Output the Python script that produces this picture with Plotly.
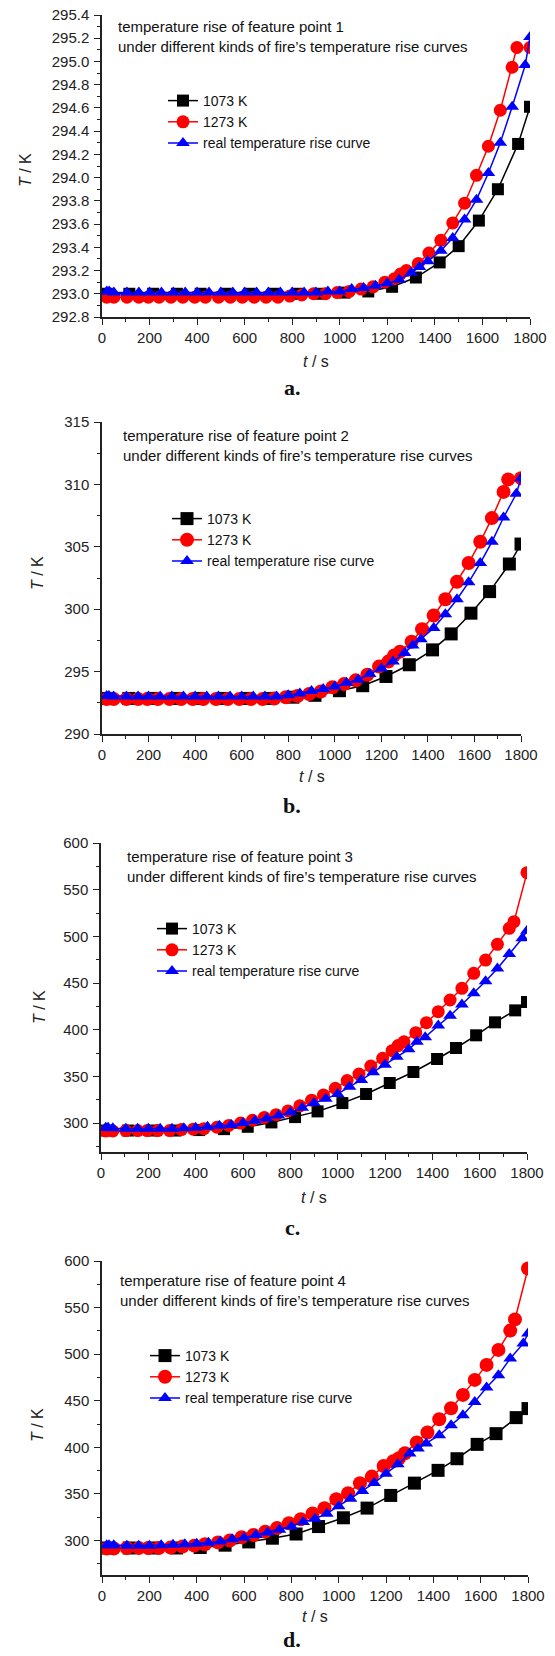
import plotly.graph_objects as go

W, H = 555, 1656
SANS = "Liberation Sans, Arial, sans-serif"
SERIF = "Liberation Serif, DejaVu Serif, serif"

# ---------------- data ----------------
t_1073 = [20, 115, 215, 315, 415, 520, 620, 720, 820, 915, 1020, 1120, 1220, 1320,
          1420, 1500, 1585, 1665, 1750, 1800]
t_1273 = [20, 50, 105, 155, 195, 240, 290, 340, 390, 435, 490, 540, 590, 640, 690,
          740, 790, 840, 890, 940, 990, 1040, 1090, 1140, 1190, 1230, 1255, 1280,
          1330, 1375, 1425, 1475, 1525, 1575, 1625, 1675, 1725, 1745, 1800]
t_real = [20, 30, 50, 105, 155, 200, 250, 300, 350, 400, 450, 500, 550, 600, 650,
          700, 750, 800, 850, 900, 950, 1000, 1050, 1100, 1150, 1200, 1250, 1300,
          1335, 1370, 1425, 1475, 1525, 1575, 1625, 1675, 1725, 1780, 1800]

# panel a: feature point 1
a_1073 = [293.00, 293.00, 293.00, 293.00, 293.00, 293.00, 293.00, 293.00, 293.00,
          293.00, 293.01, 293.02, 293.06, 293.14, 293.27, 293.41, 293.63, 293.90,
          294.29, 294.61]
a_1273 = [292.97, 292.97, 292.97, 292.97, 292.97, 292.97, 292.97, 292.97, 292.97,
          292.97, 292.97, 292.97, 292.97, 292.97, 292.97, 292.97, 292.98, 292.99,
          293.00, 293.00, 293.01, 293.02, 293.04, 293.06, 293.10, 293.13, 293.17,
          293.20, 293.26, 293.35, 293.46, 293.61, 293.78, 294.02, 294.27, 294.58,
          294.95, 295.12, 295.12]
a_real = [293.02, 293.02, 293.01, 293.01, 293.01, 293.01, 293.01, 293.01, 293.01,
          293.01, 293.01, 293.01, 293.01, 293.01, 293.01, 293.01, 293.01, 293.01,
          293.01, 293.01, 293.02, 293.02, 293.04, 293.05, 293.07, 293.09, 293.12,
          293.18, 293.23, 293.28, 293.37, 293.48, 293.64, 293.81, 294.04, 294.30,
          294.61, 294.97, 295.21]

# panel b: feature point 2
b_1073 = [292.85, 292.85, 292.85, 292.85, 292.85, 292.85, 292.85, 292.85, 292.95,
          293.10, 293.47, 293.87, 294.61, 295.55, 296.74, 298.02, 299.68, 301.41,
          303.62, 305.22]
b_1273 = [292.8, 292.8, 292.8, 292.8, 292.8, 292.8, 292.8, 292.8, 292.8, 292.8,
          292.8, 292.8, 292.8, 292.8, 292.8, 292.85, 292.95, 293.05, 293.2, 293.4,
          293.75, 294.0, 294.3, 294.75, 295.4, 295.8, 296.3, 296.6, 297.4, 298.4,
          299.5, 300.8, 302.2, 303.7, 305.4, 307.3, 309.4, 310.4, 310.5]
b_real = [293.05, 293.05, 293.0, 293.0, 293.0, 293.0, 293.0, 293.0, 293.0, 293.0,
          293.0, 293.0, 293.0, 293.0, 293.0, 293.0, 293.0, 293.1, 293.25, 293.45,
          293.6, 293.8, 294.1, 294.35, 294.8, 295.25, 295.8, 296.5, 297.1, 297.6,
          298.5, 299.6, 300.8, 302.15, 303.7, 305.4, 307.35, 309.25, 310.5]

# panel c: feature point 3
c_1073 = [292, 292, 292, 292, 292.5, 293.5, 296, 300.7, 306.4, 312.5, 321.4, 331.1,
          342.9, 354.7, 368.6, 380.4, 394.0, 407.9, 420.7, 429.7]
c_1273 = [291.5, 291.5, 292, 292, 292, 292, 292, 293, 293.5, 294, 295.5, 297.5, 300,
          303, 306, 309, 313, 318.5, 324.5, 330, 337.2, 345.5, 352.5, 361, 369.3,
          377.5, 383, 387.1, 396.8, 407.5, 419.3, 431.8, 444.3, 460.4, 474.6, 491.5,
          508.6, 515.7, 568.2]
c_real = [295, 295, 294.5, 294, 294, 294, 294, 294, 294.5, 295, 296, 297, 298, 300,
          302.5, 305, 308, 311.5, 316.5, 321.5, 326, 331, 339, 346, 354.5, 362.5,
          371, 379, 387, 392, 404.5, 415, 427, 439, 452, 465.5, 481, 498, 506]

# panel d: feature point 4
d_1073 = [292, 292, 292, 292, 292.5, 295, 298.5, 302.5, 307, 315, 324.4, 334.8,
          348.4, 361.6, 375.3, 387.8, 403.2, 414.7, 431.9, 441.6]
d_1273 = [291.5, 291.5, 292, 292, 292, 292, 292.5, 293.5, 294.5, 296, 298, 300,
          303.5, 306, 309.5, 313.5, 318.5, 322.8, 329, 334.6, 344.3, 350.8, 361.5,
          368.6, 380, 385, 388.3, 393.7, 405.2, 415.9, 430.2, 442, 456.3, 472.4,
          488.5, 504.6, 525.3, 537.3, 592]
d_real = [295, 295, 295, 294.5, 294.5, 294.5, 295, 295.5, 296, 296.5, 297.5, 299,
          301.5, 303, 306, 308.5, 311.5, 315, 320, 323.4, 328.8, 336.7, 344.9, 353.2,
          361.8, 371.8, 381.8, 393.3, 398.7, 404.1, 413, 423.8, 434.5, 448.8, 464.2,
          477.5, 495.4, 511.5, 522.3]

series_names = ["1073 K", "1273 K", "real temperature rise curve"]
panel_labels = ["a.", "b.", "c.", "d."]
point_ids = ["1", "2", "3", "4"]
y_ranges = [[292.8, 295.4], [290, 315], [269, 600], [263, 600]]
y_dticks = [0.2, 5, 50, 50]
x_range = [0, 1800]

panel_data = [
    (a_1073, a_1273, a_real),
    (b_1073, b_1273, b_real),
    (c_1073, c_1273, c_real),
    (d_1073, d_1273, d_real),
]

# ---------------- layout geometry (pixels) ----------------
geo = [
    dict(x0=102, x1=530, yt=15, yb=317, ann=(116, 16), leg=(163, 85), cap=387, xt=362, yl=(25, 170),
         ms=(12, 13, 12)),
    dict(x0=102, x1=521, yt=422, yb=734, ann=(121, 425), leg=(167, 503), cap=805, xt=776, yl=(37, 573),
         ms=(13, 14, 12)),
    dict(x0=101, x1=527, yt=843, yb=1152, ann=(125, 846), leg=(152, 913), cap=1227, xt=1197, yl=(39, 1007),
         ms=(12, 13, 12)),
    dict(x0=102, x1=528, yt=1261, yb=1575, ann=(118, 1270), leg=(145, 1340), cap=1639, xt=1616, yl=(37, 1425),
         ms=(13, 14, 12)),
]

def px(x):
    return x / W

def py(y):
    return 1 - y / H

colors = ["#000000", "#ff0000", "#0000ff"]
symbols = ["square", "circle", "triangle-up"]
times = [t_1073, t_1273, t_real]

fig = go.Figure()
annotations = []
layout = {}

for i in range(4):
    g = geo[i]
    sfx = "" if i == 0 else str(i + 1)
    xa, ya = "x" + sfx, "y" + sfx
    leg = "legend" + sfx
    for k in range(3):
        fig.add_trace(go.Scatter(
            x=times[k], y=panel_data[i][k], mode="lines+markers",
            name=series_names[k],
            line=dict(color=colors[k], width=1.5),
            marker=dict(symbol=symbols[k], size=g["ms"][k], color=colors[k], line=dict(width=0)),
            xaxis=xa, yaxis=ya, legend=leg, showlegend=True,
        ))
    dt = y_dticks[i]
    layout["xaxis" + sfx] = dict(
        domain=[px(g["x0"]), px(g["x1"])], anchor=ya, range=x_range,
        dtick=200, tick0=0, ticks="outside", ticklen=6, tickwidth=1.2, tickcolor="#222",
        showline=True, linecolor="#222", linewidth=1.5, showgrid=False, zeroline=False,
        minor=dict(dtick=100, ticks="outside", ticklen=3, tickwidth=1, tickcolor="#222", showgrid=False),
        tickfont=dict(family=SANS, size=15, color="#222"), automargin=False,
    )
    layout["yaxis" + sfx] = dict(
        domain=[py(g["yb"]), py(g["yt"])], anchor=xa, range=y_ranges[i],
        dtick=dt, tick0=0 if dt >= 1 else 292.8, ticks="outside", ticklen=6, tickwidth=1.2, tickcolor="#222",
        showline=True, linecolor="#222", linewidth=1.5, showgrid=False, zeroline=False,
        minor=dict(dtick=dt / 2, ticks="outside", ticklen=3, tickwidth=1, tickcolor="#222", showgrid=False),
        tickfont=dict(family=SANS, size=15, color="#222"),
        tickformat=".1f" if dt < 1 else "d", ticklabelstandoff=2, automargin=False,
    )
    layout[leg] = dict(
        x=px(g["leg"][0]), y=py(g["leg"][1]), xanchor="left", yanchor="top",
        bgcolor="rgba(0,0,0,0)", font=dict(family=SANS, size=14, color="#111"),
        itemwidth=30, tracegroupgap=0, traceorder="normal",
    )
    annotations.append(dict(
        x=px(g["ann"][0]), y=py(g["ann"][1]), xref="paper", yref="paper",
        xanchor="left", yanchor="top", align="left", showarrow=False,
        text="temperature rise of feature point " + point_ids[i]
             + "<br>under different kinds of fire’s temperature rise curves",
        font=dict(family=SANS, size=15, color="#111"),
    ))
    annotations.append(dict(
        x=px((g["x0"] + g["x1"]) / 2), y=py(g["xt"]), xref="paper", yref="paper",
        xanchor="center", yanchor="middle", showarrow=False,
        text="<i>t</i> / s", font=dict(family=SANS, size=16, color="#222"),
    ))
    annotations.append(dict(
        x=px(g["yl"][0]), y=py(g["yl"][1]), xref="paper", yref="paper",
        xanchor="center", yanchor="middle", showarrow=False, textangle=-90,
        text="<i>T</i> / K", font=dict(family=SANS, size=16, color="#222"),
    ))
    annotations.append(dict(
        x=px(292), y=py(g["cap"]), xref="paper", yref="paper",
        xanchor="center", yanchor="middle", showarrow=False,
        text="<b>" + panel_labels[i] + "</b>", font=dict(family=SERIF, size=22, color="#111"),
    ))

fig.update_layout(
    width=W, height=H, autosize=False, margin=dict(l=0, r=0, t=0, b=0, pad=0),
    paper_bgcolor="white", plot_bgcolor="white",
    annotations=annotations, **layout,
)

fig.write_html(
    "out.html",
    config={"displayModeBar": False, "responsive": False},
    post_script="document.body.style.margin='0px';document.body.style.overflow='hidden';",
)
